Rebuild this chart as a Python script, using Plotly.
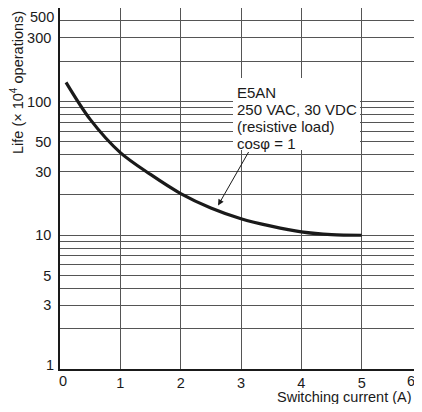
import numpy as np
import plotly.graph_objects as go

# ---- data ----
CURRENT_A = [0.1, 0.5, 1.0, 1.5, 2.0, 2.5, 3.0, 3.5, 4.0, 4.5, 5.0]
LIFE_1E4 = [139, 73.5, 41.5, 28.5, 20.5, 16, 13.3, 11.7, 10.6, 10.1, 10.0]

X_TICKS = [0, 1, 2, 3, 4, 5, 6]
X_EDGE_LABELS = [0, 6]            # nudged inward, drawn as annotations
Y_GRID = [1, 2, 3, 4, 5, 6, 7, 8, 9,
          10, 20, 30, 40, 50, 60, 70, 80, 90,
          100, 200, 300, 400, 500]
Y_LABELS = [3, 5, 10, 30, 50, 100, 300]
Y_EDGE_LABELS = [1, 500]          # nudged inward, drawn as annotations

NOTE_LINES = ["E5AN", "250 VAC, 30 VDC", "(resistive load)", "cos\u03c6 = 1"]
ARROW_TIP = (2.62, 16.7)
ARROW_TAIL = (3.14, 43)

FONT = "Liberation Sans, Arial, Helvetica, sans-serif"
INK = "#1a1a1a"
GRID = "#555555"

# page body has an 8px margin: keep the figure (and everything drawn in it)
# inside the window so no scrollbar shows up
W, H = 414, 396
M = dict(l=52, r=0, t=0, b=35)
PH = H - M["t"] - M["b"]
PW = W - M["l"] - M["r"]


def py(win_y):
    # window pixel row -> paper y
    return (H - M["b"] - (win_y - 8)) / PH


def px(win_x):
    # window pixel column -> paper x
    return (win_x - 8 - M["l"]) / PW


fig = go.Figure(go.Scatter(
    x=CURRENT_A, y=LIFE_1E4, mode="lines",
    line=dict(color=INK, width=3.2, shape="spline", smoothing=0.9),
    hoverinfo="skip", showlegend=False,
))

# white box behind the note
fig.add_shape(type="rect", xref="paper", yref="paper",
              x0=px(233), x1=px(360), y0=py(150), y1=py(78),
              fillcolor="white", line=dict(width=0), layer="above")

for i, line in enumerate(NOTE_LINES):
    fig.add_annotation(text=line, xref="paper", yref="paper",
                       x=px(235), y=py(92 + 17 * i), xanchor="left",
                       yanchor="middle", showarrow=False,
                       font=dict(size=15, color=INK, family=FONT))

fig.add_annotation(x=ARROW_TIP[0], y=np.log10(ARROW_TIP[1]),
                   ax=ARROW_TAIL[0], ay=np.log10(ARROW_TAIL[1]),
                   xref="x", yref="y", axref="x", ayref="y",
                   text="", showarrow=True, arrowhead=2, arrowsize=1.2,
                   arrowwidth=1, arrowcolor=INK)

for v, shift in zip(Y_EDGE_LABELS, [4, -9]):
    fig.add_annotation(text=str(v), xref="paper", yref="y",
                       x=0, y=np.log10(v), xanchor="right", xshift=-4,
                       yshift=shift, showarrow=False,
                       font=dict(size=14.5, color=INK, family=FONT))

for v, anchor, shift in zip(X_EDGE_LABELS, ["center", "right"], [3, -5]):
    fig.add_annotation(text=str(v), xref="x", yref="paper",
                       x=v, y=py(381), xanchor=anchor, yanchor="middle",
                       xshift=shift, showarrow=False,
                       font=dict(size=14.5, color=INK, family=FONT))

fig.add_annotation(text="Life (\u00d7 10<sup>4</sup> operations)",
                   xref="paper", yref="paper", x=px(17), y=py(83),
                   xanchor="center", yanchor="middle",
                   textangle=-90, showarrow=False,
                   font=dict(size=14.5, color=INK, family=FONT))

fig.add_annotation(text="Switching current (A)", xref="paper", yref="paper",
                   x=1, y=py(397), xanchor="right", yanchor="middle",
                   xshift=-8, showarrow=False,
                   font=dict(size=14.5, color=INK, family=FONT))

fig.update_layout(
    width=W, height=H, margin=M,
    paper_bgcolor="white", plot_bgcolor="white",
    font=dict(family=FONT, size=14.5, color=INK),
    xaxis=dict(range=[0, 6], tickvals=X_TICKS,
               ticktext=["" if v in X_EDGE_LABELS else str(v) for v in X_TICKS],
               showgrid=True, gridcolor=GRID, gridwidth=1, zeroline=False,
               showline=True, linecolor=INK, linewidth=1.6,
               ticks="", fixedrange=True),
    yaxis=dict(type="log", range=[0, np.log10(500)],
               tickvals=Y_GRID,
               ticktext=[str(v) if v in Y_LABELS else "" for v in Y_GRID],
               showgrid=True, gridcolor=GRID, gridwidth=1,
               showline=True, linecolor=INK, linewidth=1.6,
               ticks="", ticklabelstandoff=4, fixedrange=True),
)

fig.write_html("out.html")
